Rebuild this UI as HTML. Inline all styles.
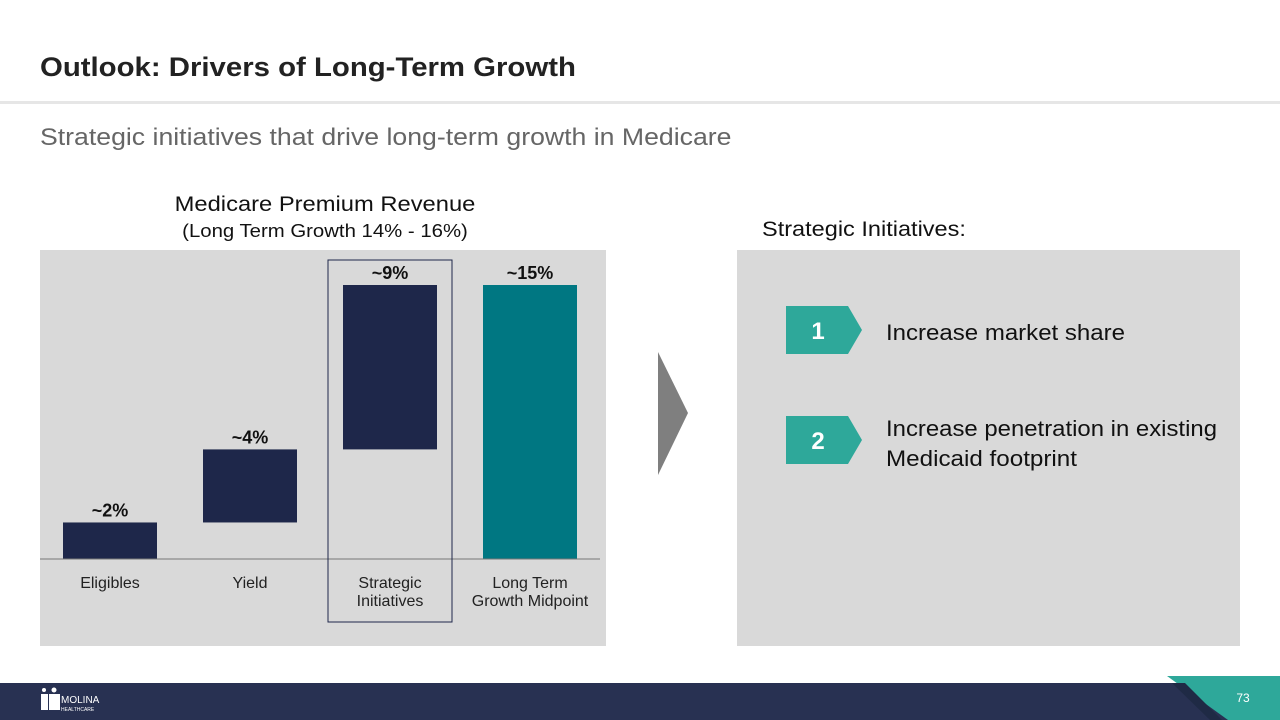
<!DOCTYPE html>
<html><head><meta charset="utf-8"><style>
body{margin:0;width:1280px;height:720px;position:relative;background:#fff;font-family:"Liberation Sans",Arial,sans-serif;overflow:hidden}
.a{position:absolute}
.sx{transform:scaleX(1.11);transform-origin:left top;white-space:nowrap}
.sc{transform:scaleX(1.13);transform-origin:center top;white-space:nowrap}
</style></head><body>
<div class="a sx" style="left:40px;top:52px;font-size:27px;font-weight:bold;color:#222;transform:scaleX(1.087)">Outlook: Drivers of Long-Term Growth</div>
<div class="a" style="left:0;top:101px;width:1280px;height:3px;background:#e6e6e6"></div>
<div class="a sx" style="left:40px;top:124px;font-size:24px;color:#666">Strategic initiatives that drive long-term growth in Medicare</div>
<div class="a sc" style="left:120px;top:193px;width:410px;text-align:center;font-size:21px;color:#111">Medicare Premium Revenue</div>
<div class="a sc" style="left:120px;top:221px;width:410px;text-align:center;font-size:18px;color:#111">(Long Term Growth 14% - 16%)</div>
<div class="a sx" style="left:762px;top:218px;font-size:21px;color:#111;transform:scaleX(1.12)">Strategic Initiatives:</div>
<svg class="a" style="left:0;top:0" width="1280" height="720" id="chart">
<rect x="40" y="250" width="566" height="396" fill="#d9d9d9"/>
<rect x="737" y="250" width="503" height="396" fill="#d9d9d9"/>
<polygon points="658,352 688,413 658,475" fill="#7f7f7f"/>
<g id="bars"></g>
<polygon points="786,306 848,306 862,330 848,354 786,354" fill="#2ea89a"/>
<text x="818" y="339" text-anchor="middle" font-size="24" font-weight="bold" fill="#fff">1</text>
<polygon points="786,416 848,416 862,440 848,464 786,464" fill="#2ea89a"/>
<text x="818" y="449" text-anchor="middle" font-size="24" font-weight="bold" fill="#fff">2</text>
<text x="886" y="340" font-size="22" fill="#111" textLength="239" lengthAdjust="spacingAndGlyphs">Increase market share</text>
<text x="886" y="436" font-size="22" fill="#111" textLength="331" lengthAdjust="spacingAndGlyphs">Increase penetration in existing</text>
<text x="886" y="466" font-size="22" fill="#111" textLength="191" lengthAdjust="spacingAndGlyphs">Medicaid footprint</text>
<rect x="0" y="683" width="1280" height="37" fill="#283152"/>
<polygon points="1167,676 1280,676 1280,720 1228,720" fill="#2ea89a"/>
<polygon points="1172,683 1185,683 1222,720 1210,720" fill="#1f2a45"/>
<text x="1243" y="702" font-size="12" fill="#fff" text-anchor="middle">73</text>
<g>
<rect x="41" y="694" width="7" height="16" fill="#fff"/><rect x="49" y="694" width="11" height="16" fill="#fff"/>
<circle cx="44" cy="690" r="2" fill="#fff"/><circle cx="54" cy="690" r="2.5" fill="#fff"/>
<text x="61" y="703" font-size="10" fill="#fff">MOLINA</text>
<text x="61" y="711" font-size="5" fill="#fff">HEALTHCARE</text>
</g>
</svg>
<script>
const categories=["Eligibles","Yield","Strategic Initiatives","Long Term Growth Midpoint"];
const labelLines=[["Eligibles"],["Yield"],["Strategic","Initiatives"],["Long Term","Growth Midpoint"]];
const starts=[0,2,6,0];
const values=[2,4,9,15];
const valueLabels=["~2%","~4%","~9%","~15%"];
const NS="http://www.w3.org/2000/svg";
const g=document.getElementById('bars');
const base=559,scale=274/15;
const y=v=>base-v*scale;
const xc=i=>110+i*140;
function mk(t,a){const e=document.createElementNS(NS,t);for(const k in a)e.setAttribute(k,a[k]);g.appendChild(e);return e;}
categories.forEach((c,i)=>{
  const top=y(starts[i]+values[i]),bot=y(starts[i]);
  const r=mk('rect',{x:xc(i)-47,y:top,width:94,height:bot-top,fill:i==3?'#007782':'#1e274a'});
  
  
  const t=mk('text',{x:xc(i),y:top-6,'text-anchor':'middle','font-size':18,'font-weight':'bold',fill:'#111'});
  t.textContent=valueLabels[i];
  
  
  labelLines[i].forEach((l,j)=>{
    const tl=mk('text',{x:xc(i),y:588+j*18,'text-anchor':'middle','font-size':16,fill:'#222'});
    tl.textContent=l;
    
    
  });
});
const ax=mk('line',{x1:40,x2:600,y1:base,y2:base,stroke:'#777','stroke-width':1});


const hb=mk('rect',{x:xc(2)-62,y:260,width:124,height:362,fill:'none',stroke:'#1e274a','stroke-width':1});


</script>
</body></html>
